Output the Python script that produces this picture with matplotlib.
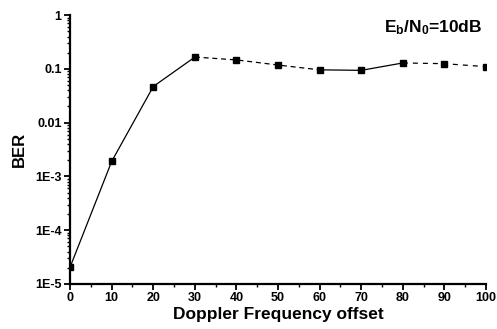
import matplotlib.pyplot as plt
from matplotlib.ticker import MultipleLocator, LogLocator, NullFormatter

plt.rcParams['font.family'] = 'Liberation Sans'
plt.rcParams['font.weight'] = 'bold'
plt.rcParams['mathtext.fontset'] = 'custom'
plt.rcParams['mathtext.default'] = 'bf'
plt.rcParams['mathtext.bf'] = 'Liberation Sans:bold'

# --- BER vs Doppler offset (Eb/N0 = 10 dB) ---
doppler = [0, 10, 20, 30, 40, 50, 60, 70, 80, 90, 100]
ber = [2.05e-5, 1.9e-3, 0.047, 0.166, 0.147, 0.118, 0.096, 0.094, 0.129, 0.125, 0.11]
yticks = [1e-5, 1e-4, 1e-3, 0.01, 0.1, 1]
ytick_labels = ['1E-5', '1E-4', '1E-3', '0.01', '0.1', '1']

fig = plt.figure(figsize=(4.97, 3.29), dpi=100)
ax = fig.add_axes([0.141, 0.137, 0.837, 0.817])

# the scanned curve alternates solid / dashed pieces
pieces = [(0, 4, '-'), (3, 7, (0, (4, 3))), (6, 9, '-'), (8, 11, (0, (4, 4)))]
for a, b, ls in pieces:
    ax.plot(doppler[a:b], ber[a:b], color='black', lw=0.9, linestyle=ls)
ax.plot(doppler, ber, linestyle='none', marker='s', markersize=4.5, color='black')

ax.set_yscale('log')
ax.set_xlim(0, 100)
ax.set_ylim(1e-5, 1)
ax.set_yticks(yticks)
ax.set_yticklabels(ytick_labels)
ax.yaxis.set_minor_locator(LogLocator(base=10, subs=range(2, 10)))
ax.yaxis.set_minor_formatter(NullFormatter())
ax.xaxis.set_major_locator(MultipleLocator(10))
ax.xaxis.set_minor_locator(MultipleLocator(5))

for s in ['top', 'right']:
    ax.spines[s].set_visible(False)
for s in ['left', 'bottom']:
    ax.spines[s].set_linewidth(1.6)
ax.tick_params(which='major', length=4, width=1.3, labelsize=9, pad=2)
ax.tick_params(which='minor', length=2.5, width=1.0)

ax.set_xlabel('Doppler Frequency offset', fontsize=12.5, fontweight='bold', labelpad=2)
ax.set_ylabel('BER', fontsize=12, fontweight='bold', labelpad=6)
ax.text(0.99, 0.99, r'E$_b$/N$_0$=10dB', transform=ax.transAxes,
        ha='right', va='top', fontsize=12.5, fontweight='bold')

plt.savefig('out.png', dpi=100)
